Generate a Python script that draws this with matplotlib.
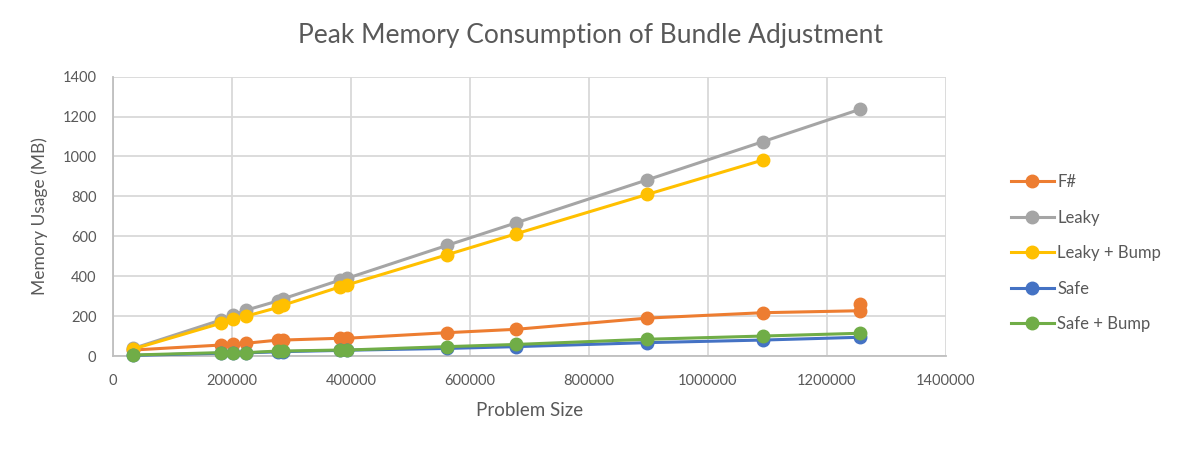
import matplotlib.pyplot as plt

# Размер задачи (ось X) и пиковая память в МБ для каждой реализации
problem_size = [34000, 181000, 202000, 224000, 278000, 286000, 382000,
                393000, 562000, 678000, 898000, 1092000, 1256000]

fsharp_x = problem_size + [1256000]
fsharp = [30, 55, 60, 64, 80, 80, 89, 89, 117, 134, 190, 217, 227, 260]
leaky = [38, 180, 205, 230, 277, 287, 381, 389, 555, 668, 883, 1074, 1237]
leaky_bump_x = problem_size[:-1]
leaky_bump = [35, 164, 184, 200, 244, 255, 347, 356, 508, 613, 810, 982]
safe = [3, 14, 15, 16, 21, 22, 28, 29, 38, 47, 67, 80, 94]
safe_bump = [5, 17, 17, 17, 25, 25, 30, 30, 47, 58, 84, 100, 114]

x_ticks = list(range(0, 1400001, 200000))
y_ticks = list(range(0, 1401, 200))

plt.rcParams['font.family'] = ['Lato', 'DejaVu Sans']
text_color = '#595959'

fig = plt.figure(figsize=(11.82, 4.49), dpi=100)
ax = fig.add_axes([0.0956, 0.2071, 0.7047, 0.6221])

series = [
    ('F#', fsharp_x, fsharp, '#ED7D31'),
    ('Leaky', problem_size, leaky, '#A5A5A5'),
    ('Leaky + Bump', leaky_bump_x, leaky_bump, '#FFC000'),
    ('Safe', problem_size, safe, '#4472C4'),
    ('Safe + Bump', problem_size, safe_bump, '#70AD47'),
]
for name, xs, ys, color in series:
    ax.plot(xs, ys, color=color, linewidth=2.2, marker='o', markersize=9,
            label=name, clip_on=False, zorder=3)

ax.set_xlim(0, 1400000)
ax.set_ylim(0, 1400)
ax.set_xticks(x_ticks)
ax.set_yticks(y_ticks)
ax.set_xticklabels([str(v) for v in x_ticks])
ax.grid(color='#D9D9D9', linewidth=1.3)
ax.set_axisbelow(True)
ax.tick_params(length=0, labelsize=10.5, colors=text_color)
ax.tick_params(axis='x', pad=13)
ax.tick_params(axis='y', pad=12)

for side in ['top', 'right']:
    ax.spines[side].set_visible(False)
for side in ['left', 'bottom']:
    ax.spines[side].set_color('#BFBFBF')
    ax.spines[side].set_linewidth(1.3)

ax.set_xlabel('Problem Size', fontsize=13.5, color=text_color, labelpad=10)
ax.set_ylabel('Memory Usage (MB)', fontsize=12.5, color=text_color, labelpad=10)
fig.suptitle('Peak Memory Consumption of Bundle Adjustment', x=0.5, y=0.92,
             va='center', fontsize=19, color=text_color)

fig.legend(loc='upper left', bbox_to_anchor=(0.848, 0.631), frameon=False,
           fontsize=12, labelcolor=text_color, handlelength=2.6,
           handletextpad=0.2, labelspacing=1.17, borderpad=0)

plt.savefig('out.png', dpi=100)
